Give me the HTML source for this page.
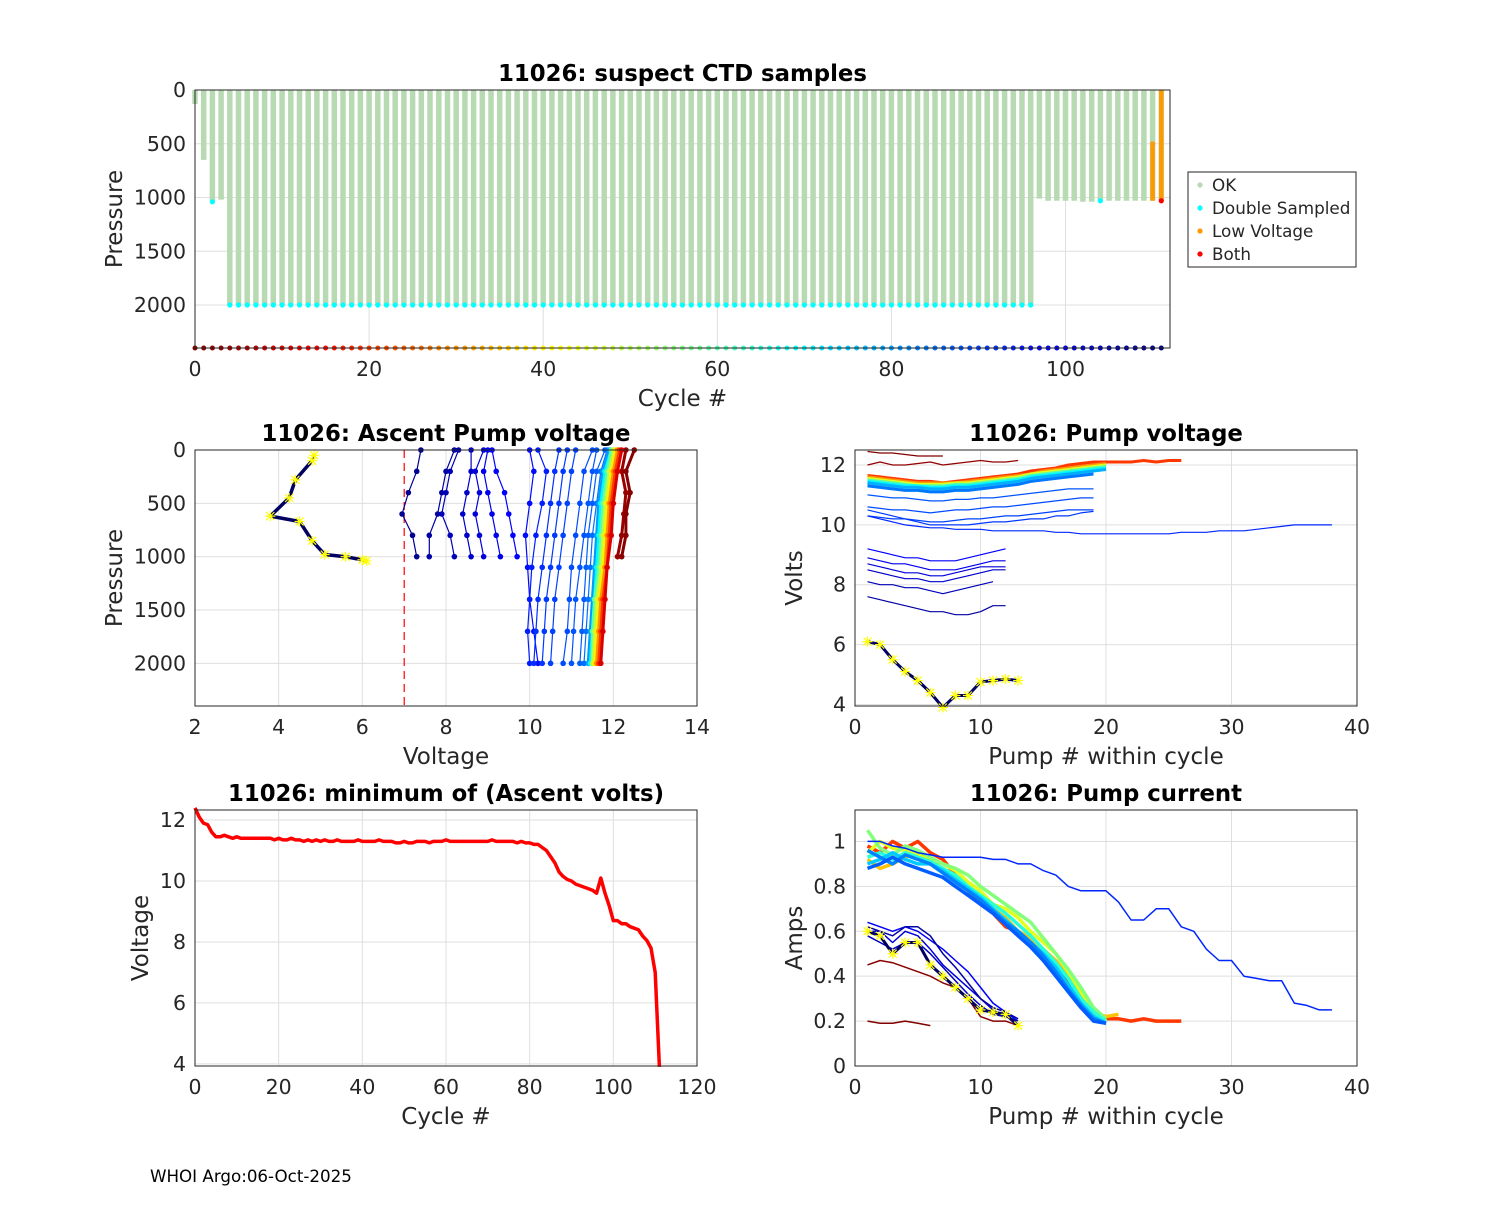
<!DOCTYPE html>
<html><head><meta charset="utf-8"><style>
body{margin:0;background:#fff}
svg{font-family:"DejaVu Sans","Liberation Sans",sans-serif}
.tk{font-size:20.5px;fill:#262626}
.ttl{font-size:22.8px;font-weight:bold;fill:#000}
.lbl{font-size:23px;fill:#262626}
</style></head><body>
<svg id="fig" width="1500" height="1200" viewBox="0 0 1500 1200"></svg>
<script>
// ---------- data ----------
const cycles=[];for(let c=0;c<112;c++)cycles.push(c);
const maxPres=[130,650,1040,1020,2000,2000,2000,2000,2000,2000,2000,2000,2000,2000,2000,2000,2000,2000,2000,2000,2000,2000,2000,2000,2000,2000,2000,2000,2000,2000,2000,2000,2000,2000,2000,2000,2000,2000,2000,2000,2000,2000,2000,2000,2000,2000,2000,2000,2000,2000,2000,2000,2000,2000,2000,2000,2000,2000,2000,2000,2000,2000,2000,2000,2000,2000,2000,2000,2000,2000,2000,2000,2000,2000,2000,2000,2000,2000,2000,2000,2000,2000,2000,2000,2000,2000,2000,2000,2000,2000,2000,2000,2000,2000,2000,2000,2000,1010,1030,1030,1030,1030,1040,1040,1030,1030,1030,1030,1030,1030,1030,1030];
const doubleSampledCycles=[2,4,5,6,7,8,9,10,11,12,13,14,15,16,17,18,19,20,21,22,23,24,25,26,27,28,29,30,31,32,33,34,35,36,37,38,39,40,41,42,43,44,45,46,47,48,49,50,51,52,53,54,55,56,57,58,59,60,61,62,63,64,65,66,67,68,69,70,71,72,73,74,75,76,77,78,79,80,81,82,83,84,85,86,87,88,89,90,91,92,93,94,95,96,104];
const lowVoltCycles=[110,111];
const lowVoltTop=[480,0];
const minVolts=[12.4,12.1,11.9,11.85,11.6,11.45,11.45,11.5,11.45,11.4,11.45,11.4,11.4,11.4,11.4,11.4,11.4,11.4,11.4,11.35,11.4,11.35,11.35,11.4,11.35,11.35,11.3,11.35,11.3,11.35,11.3,11.35,11.3,11.3,11.35,11.3,11.3,11.3,11.3,11.35,11.3,11.3,11.3,11.3,11.35,11.3,11.3,11.3,11.25,11.25,11.3,11.25,11.25,11.3,11.3,11.3,11.25,11.3,11.3,11.3,11.35,11.3,11.3,11.3,11.3,11.3,11.3,11.3,11.3,11.3,11.3,11.35,11.3,11.3,11.3,11.3,11.3,11.25,11.3,11.25,11.25,11.2,11.2,11.1,11.0,10.8,10.6,10.3,10.15,10.05,10.0,9.9,9.85,9.8,9.75,9.7,9.6,10.1,9.6,9.2,8.7,8.7,8.6,8.6,8.5,8.45,8.4,8.2,8.05,7.8,7.0,3.9];
const presDeep=[2000,1700,1400,1100,800,500,200,0];
const presShallow=[1000,800,600,400,200,0];
const profiles=[
[10,presDeep,[11.7,11.75,11.8,11.85,11.95,12.0,12.1,12.2]],
[20,presDeep,[11.65,11.7,11.75,11.85,11.9,11.95,12.05,12.15]],
[30,presDeep,[11.6,11.65,11.7,11.8,11.85,11.9,12.0,12.1]],
[40,presDeep,[11.55,11.6,11.65,11.75,11.8,11.85,11.95,12.05]],
[50,presDeep,[11.5,11.55,11.6,11.7,11.75,11.8,11.9,12.0]],
[60,presDeep,[11.5,11.5,11.55,11.65,11.7,11.75,11.85,11.95]],
[70,presDeep,[11.45,11.5,11.55,11.6,11.65,11.7,11.8,11.95]],
[80,presDeep,[11.4,11.45,11.5,11.55,11.6,11.65,11.75,11.9]],
[85,presDeep,[11.3,11.35,11.4,11.45,11.5,11.6,11.7,11.85]],
[87,presDeep,[11.2,11.25,11.3,11.35,11.4,11.5,11.6,11.8]],
[88,presDeep,[11.0,11.05,11.1,11.2,11.3,11.4,11.5,11.6]],
[89,presDeep,[10.8,10.9,10.95,11.0,11.1,11.2,11.3,11.5]],
[90,presDeep,[10.5,10.55,10.6,10.7,10.8,10.9,11.0,11.1]],
[91,presDeep,[10.3,10.35,10.4,10.5,10.6,10.7,10.8,10.9]],
[92,presDeep,[10.1,10.15,10.2,10.3,10.4,10.5,10.6,10.7]],
[94,presDeep,[10.0,9.95,10.0,10.05,10.15,10.3,10.4,10.2]],
[96,presDeep,[10.2,10.1,10.0,9.95,9.9,10.0,10.1,10.0]],
[97,presShallow,[9.7,9.6,9.5,9.4,9.2,9.1]],
[99,presShallow,[9.3,9.2,9.1,9.0,8.9,9.0]],
[101,presShallow,[8.9,8.8,8.7,8.8,8.7,8.9]],
[103,presShallow,[8.6,8.5,8.4,8.5,8.6,8.6]],
[105,presShallow,[8.2,8.1,7.9,8.0,8.1,8.3]],
[107,presShallow,[7.6,7.6,7.8,7.9,8.0,8.2]],
[109,presShallow,[7.3,7.2,6.95,7.1,7.3,7.4]],
[1,presShallow,[12.2,12.3,12.3,12.4,12.3,12.5]],
[3,presShallow,[12.1,12.2,12.25,12.3,12.2,12.3]]
];
const lastPres=[50,100,280,450,620,670,850,980,1000,1030,1040];
const lastVolts=[4.85,4.8,4.4,4.25,3.8,4.5,4.8,5.1,5.6,6.0,6.1];
const pumpVolt=[
[0,[12.45,12.4,12.4,12.35,12.3,12.3,12.3]],
[2,[12.0,12.1,12.0,12.0,12.05,12.1,12.0,12.05,12.1,12.15,12.1,12.1,12.15]],
[20,[11.65,11.6,11.55,11.5,11.45,11.45,11.4,11.45,11.5,11.55,11.6,11.65,11.7,11.8,11.85,11.9,12.0,12.05,12.1,12.1,12.1,12.1,12.15,12.1,12.15,12.15]],
[30,[11.6,11.55,11.5,11.45,11.4,11.4,11.4,11.4,11.45,11.5,11.55,11.6,11.65,11.7,11.8,11.85,11.9,11.95,12.0,12.05]],
[45,[11.55,11.5,11.45,11.4,11.35,11.35,11.35,11.4,11.4,11.45,11.5,11.55,11.6,11.7,11.75,11.8,11.85,11.9,11.95,12.0]],
[60,[11.5,11.45,11.4,11.35,11.3,11.3,11.3,11.35,11.35,11.4,11.45,11.5,11.55,11.65,11.7,11.75,11.8,11.85,11.9,11.95]],
[70,[11.45,11.4,11.35,11.3,11.3,11.25,11.25,11.3,11.3,11.35,11.4,11.45,11.5,11.6,11.65,11.7,11.75,11.8,11.85,11.9]],
[78,[11.4,11.35,11.3,11.25,11.25,11.2,11.2,11.25,11.25,11.3,11.35,11.4,11.45,11.55,11.6,11.65,11.7,11.75,11.8,11.85]],
[84,[11.3,11.25,11.2,11.15,11.15,11.1,11.1,11.15,11.15,11.2,11.25,11.3,11.35,11.45,11.5,11.55,11.6,11.65,11.7]],
[88,[11.0,10.95,10.9,10.9,10.85,10.8,10.8,10.85,10.85,10.9,10.9,10.95,11.0,11.05,11.1,11.15,11.2,11.2,11.2]],
[89,[10.6,10.55,10.5,10.5,10.45,10.4,10.45,10.5,10.5,10.55,10.6,10.6,10.65,10.7,10.75,10.8,10.85,10.9,10.9]],
[90,[10.3,10.25,10.2,10.2,10.15,10.1,10.1,10.15,10.2,10.2,10.25,10.3,10.3,10.35,10.4,10.45,10.5,10.5,10.5]],
[91,[10.5,10.4,10.3,10.2,10.1,10.0,10.0,10.0,10.0,10.05,10.1,10.1,10.15,10.2,10.2,10.3,10.3,10.4,10.45]],
[93,[10.3,10.2,10.1,10.0,9.95,9.9,9.9,9.85,9.85,9.85,9.8,9.8,9.8,9.8,9.8,9.75,9.75,9.7,9.7,9.7,9.7,9.7,9.7,9.7,9.7,9.75,9.75,9.75,9.8,9.8,9.8,9.85,9.9,9.95,10.0,10.0,10.0,10.0]],
[97,[9.2,9.1,9.0,8.9,8.9,8.8,8.8,8.8,8.9,9.0,9.1,9.2]],
[99,[8.9,8.8,8.7,8.7,8.6,8.5,8.5,8.5,8.6,8.7,8.8,8.8]],
[101,[8.7,8.6,8.5,8.4,8.4,8.3,8.3,8.4,8.5,8.6,8.6,8.6]],
[103,[8.5,8.4,8.3,8.2,8.2,8.1,8.1,8.2,8.3,8.4,8.5,8.5]],
[105,[8.1,8.0,8.0,7.9,7.9,7.8,7.7,7.8,7.9,8.0,8.1]],
[107,[7.6,7.5,7.4,7.3,7.2,7.1,7.1,7.0,7.0,7.1,7.3,7.3]]
];
const lastPumpVolts=[6.1,6.0,5.5,5.1,4.8,4.4,3.9,4.3,4.3,4.75,4.8,4.85,4.8];
const pumpAmps=[
[0,[0.2,0.19,0.19,0.2,0.19,0.18]],
[1,[0.45,0.47,0.46,0.44,0.42,0.4,0.37,0.35,0.3,0.22,0.2,0.2,0.18]],
[20,[0.98,0.95,1.0,0.97,1.0,0.95,0.92,0.85,0.78,0.72,0.68,0.62,0.6,0.55,0.5,0.45,0.38,0.3,0.23,0.21,0.21,0.2,0.21,0.2,0.2,0.2]],
[35,[0.92,0.88,0.9,0.93,0.95,0.9,0.88,0.84,0.8,0.76,0.7,0.66,0.6,0.57,0.52,0.47,0.4,0.31,0.24,0.22,0.23]],
[45,[0.95,1.0,0.97,0.96,0.94,0.92,0.9,0.87,0.82,0.78,0.72,0.7,0.66,0.6,0.55,0.5,0.42,0.33,0.25,0.2]],
[55,[1.05,0.97,0.94,0.98,0.96,0.93,0.9,0.88,0.85,0.8,0.76,0.72,0.68,0.64,0.57,0.5,0.43,0.35,0.26,0.21]],
[65,[0.93,0.95,0.92,0.95,0.93,0.91,0.88,0.85,0.8,0.76,0.72,0.68,0.63,0.58,0.52,0.46,0.39,0.3,0.24,0.2]],
[75,[0.9,0.92,0.95,0.92,0.9,0.9,0.87,0.83,0.79,0.75,0.7,0.65,0.6,0.55,0.5,0.44,0.36,0.28,0.22,0.19]],
[83,[0.96,0.93,0.9,0.94,0.92,0.9,0.86,0.82,0.78,0.74,0.69,0.64,0.6,0.55,0.49,0.42,0.34,0.27,0.21,0.19]],
[87,[0.88,0.9,0.93,0.9,0.88,0.86,0.84,0.8,0.76,0.72,0.68,0.63,0.58,0.53,0.47,0.4,0.33,0.26,0.2,0.19]],
[93,[1.0,1.0,0.98,0.97,0.95,0.94,0.93,0.93,0.93,0.93,0.92,0.92,0.9,0.9,0.87,0.85,0.8,0.78,0.78,0.78,0.73,0.65,0.65,0.7,0.7,0.62,0.6,0.52,0.47,0.47,0.4,0.39,0.38,0.38,0.28,0.27,0.25,0.25]],
[98,[0.64,0.62,0.6,0.62,0.6,0.56,0.52,0.47,0.42,0.35,0.28,0.24,0.2]],
[101,[0.6,0.6,0.55,0.6,0.58,0.52,0.45,0.4,0.35,0.3,0.25,0.22,0.2]],
[104,[0.58,0.55,0.52,0.55,0.55,0.5,0.44,0.38,0.32,0.27,0.23,0.22,0.2]],
[107,[0.62,0.6,0.58,0.62,0.62,0.58,0.5,0.44,0.37,0.3,0.26,0.24,0.21]]
];
const lastPumpAmps=[0.6,0.58,0.5,0.55,0.55,0.45,0.4,0.35,0.3,0.25,0.24,0.23,0.18];

// ---------- helpers ----------
const NS='http://www.w3.org/2000/svg';
const svg=document.getElementById('fig');
function mk(tag,attrs,parent){const e=document.createElementNS(NS,tag);for(const k in attrs)e.setAttribute(k,attrs[k]);(parent||svg).appendChild(e);return e;}
function jet(c){let t=1-c/111;const f=v=>Math.max(0,Math.min(1,v));
 const r=f(1.5-Math.abs(4*t-3)),g=f(1.5-Math.abs(4*t-2)),b=f(1.5-Math.abs(4*t-1));
 return `rgb(${Math.round(r*255)},${Math.round(g*255)},${Math.round(b*255)})`;}
function axes(name,x0,y0,w,h,xmin,xmax,ymin,ymax,rev,xt,yt,title,xl,yl,ylx){
 const g=mk('g',{});
 const sx=v=>x0+(v-xmin)/(xmax-xmin)*w;
 const sy=rev?v=>y0+(v-ymin)/(ymax-ymin)*h:v=>y0+h-(v-ymin)/(ymax-ymin)*h;
 mk('rect',{x:x0,y:y0,width:w,height:h,fill:'#fff'},g);
 const grid=mk('g',{stroke:'#dfdfdf','stroke-width':1},g);
 xt.forEach(v=>{mk('line',{x1:sx(v),x2:sx(v),y1:y0,y2:y0+h},grid);
  const t=mk('text',{x:sx(v),y:y0+h+28,'text-anchor':'middle',class:'tk'},g);t.textContent=v;
  });
 yt.forEach(v=>{mk('line',{x1:x0,x2:x0+w,y1:sy(v),y2:sy(v)},grid);
  const t=mk('text',{x:x0-9,y:sy(v)+7,'text-anchor':'end',class:'tk'},g);t.textContent=v;
  });
 const plot=mk('g',{},g);
 const fr=mk('rect',{x:x0,y:y0,width:w,height:h,fill:'none',stroke:'#262626','stroke-width':1},g);
 
 const tt=mk('text',{x:x0+w/2,y:y0-9,'text-anchor':'middle',class:'ttl'},g);tt.textContent=title;
 
 const xlab=mk('text',{x:x0+w/2,y:y0+h+58,'text-anchor':'middle',class:'lbl'},g);xlab.textContent=xl;
 
 const ylab=mk('text',{x:ylx,y:y0+h/2,'text-anchor':'middle',class:'lbl',transform:`rotate(-90 ${ylx} ${y0+h/2})`},g);ylab.textContent=yl;
 
 return {sx,sy,plot};
}
function line(ax,xs,ys,col,w,name){const d=xs.map((x,i)=>(i?'L':'M')+ax.sx(x).toFixed(1)+' '+ax.sy(ys[i]).toFixed(1)).join('');
 const p=mk('path',{d,fill:'none',stroke:col,'stroke-width':w,'stroke-linejoin':'round'},ax.plot);
 return p;}
function dot(ax,x,y,r,col,name){const c=mk('circle',{cx:ax.sx(x),cy:ax.sy(y),r,fill:col},ax.plot);
 }
function star(ax,x,y,name){const X=ax.sx(x),Y=ax.sy(y);
 const p=mk('path',{d:`M${X-5} ${Y}H${X+5}M${X} ${Y-5}V${Y+5}M${X-4} ${Y-4}L${X+4} ${Y+4}M${X-4} ${Y+4}L${X+4} ${Y-4}`,stroke:'#ffff00','stroke-width':1.2},ax.plot);
 }
const idx=n=>Array.from({length:n},(_,i)=>i+1);

// ---------- panel 1 ----------
const a1=axes('suspect-ctd-chart',195,90,975,258,0,112,0,2400,true,[0,20,40,60,80,100],[0,500,1000,1500,2000],'11026: suspect CTD samples','Cycle #','Pressure',122);
cycles.forEach(c=>{line(a1,[c,c],[0,maxPres[c]],'#b8dab2',5.5,'ok-sample-bar');});
lowVoltCycles.forEach((c,i)=>line(a1,[c,c],[lowVoltTop[i],maxPres[c]],'#ff9900',4.5,'low-voltage-bar'));
doubleSampledCycles.forEach(c=>dot(a1,c,c===2?1040:(c===104?1030:2000),2.6,'#00ffff','double-sampled-dot'));
dot(a1,111,1030,2.6,'#ff0000','both-dot');
cycles.forEach(c=>dot(a1,c,2400,2.5,jet(c),'cycle-color-dot'));
const lg=mk('g',{});
mk('rect',{x:1188,y:172,width:168,height:95,fill:'#fff',stroke:'#262626'},lg);
[['OK','#b8dab2'],['Double Sampled','#00ffff'],['Low Voltage','#ff9900'],['Both','#ff0000']].forEach((e,i)=>{
 const y=185+i*23;const le=mk('g',{},lg);
 mk('circle',{cx:1200,cy:y,r:2.6,fill:e[1]},le);const t=mk('text',{x:1212,y:y+6,'font-size':16.8,fill:'#262626'},le);t.textContent=e[0];});

// ---------- panel 2 ----------
const a2=axes('ascent-pump-voltage-chart',195,450,502,256,2,14,0,2400,true,[2,4,6,8,10,12,14],[0,500,1000,1500,2000],'11026: Ascent Pump voltage','Voltage','Pressure',122);
line(a2,[7,7],[0,2400],'#ff0000',1.2,'threshold-line').setAttribute('stroke-dasharray','8 5');
profiles.slice().reverse().forEach(p=>{const col=jet(p[0]);line(a2,p[2],p[1],col,p[0]<84?3:1.2,'voltage-profile');
 p[1].forEach((pr,i)=>dot(a2,p[2][i],pr,2.8,col,'profile-point'));});
line(a2,lastVolts,lastPres,'#000060',3.5,'last-cycle-profile');
lastPres.forEach((pr,i)=>star(a2,lastVolts[i],pr,'last-cycle-point'));

// ---------- panel 3 ----------
const a3=axes('pump-voltage-chart',855,450,502,256,0,40,3.95,12.5,false,[0,10,20,30,40],[4,6,8,10,12],'11026: Pump voltage','Pump # within cycle','Volts',802);
pumpVolt.forEach(p=>line(a3,idx(p[1].length),p[1],jet(p[0]),p[0]>10&&p[0]<86?3:1.2,'pump-voltage-line'));
line(a3,idx(lastPumpVolts.length),lastPumpVolts,'#000060',3,'last-cycle-pump-voltage');
lastPumpVolts.forEach((v,i)=>star(a3,i+1,v,'last-cycle-point'));

// ---------- panel 4 ----------
const a4=axes('minimum-ascent-volts-chart',195,810,502,256,0,120,3.93,12.33,false,[0,20,40,60,80,100,120],[4,6,8,10,12],'11026: minimum of (Ascent volts)','Cycle #','Voltage',148);
line(a4,cycles,minVolts,'#ff0000',3.5,'min-volts-line');

// ---------- panel 5 ----------
const a5=axes('pump-current-chart',855,810,502,256,0,40,0,1.14,false,[0,10,20,30,40],[0,0.2,0.4,0.6,0.8,1],'11026: Pump current','Pump # within cycle','Amps',802);
pumpAmps.forEach(p=>line(a5,idx(p[1].length),p[1],jet(p[0]),p[0]>10&&p[0]<90?3.5:1.5,'pump-current-line'));
line(a5,idx(lastPumpAmps.length),lastPumpAmps,'#000060',3,'last-cycle-pump-current');
lastPumpAmps.forEach((v,i)=>star(a5,i+1,v,'last-cycle-point'));

const ft=mk('text',{x:150,y:1182,'font-size':16.7,fill:'#000'});ft.textContent='WHOI Argo:06-Oct-2025';

</script>
</body></html>
